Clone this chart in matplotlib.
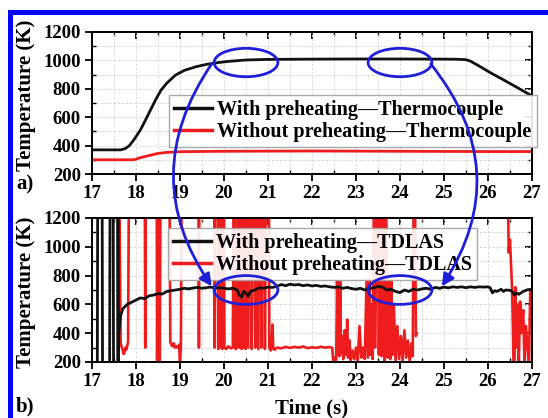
import numpy as np
import matplotlib
matplotlib.use("Agg")
import matplotlib.pyplot as plt
from matplotlib.patches import Ellipse, ConnectionPatch, Rectangle
from matplotlib.ticker import MultipleLocator

plt.rcParams['font.family'] = ['Liberation Serif', 'DejaVu Serif']
plt.rcParams['font.weight'] = 'bold'

# ---------------- data ----------------
# panel a: thermocouple
tc_pre_t = [17.0, 17.65, 17.75, 17.85, 17.95, 18.0, 18.1, 18.2, 18.33, 18.45, 18.57, 18.7, 18.9,
            19.1, 19.37, 19.6, 19.85, 20.1, 20.5, 21.0, 22.0, 23.0, 24.0, 25.0, 25.3, 25.5,
            25.6, 25.8, 26.08, 26.3, 26.56, 26.8, 27.0]
tc_pre_v = [370, 370, 378, 400, 440, 463, 510, 570, 651, 725, 791, 840, 897,
            930, 956, 972, 984, 993, 1003, 1007, 1009, 1010, 1010, 1009, 1008, 1005,
            995, 960, 909, 872, 827, 785, 750]
tc_nopre_t = [17.0, 17.95, 18.1, 18.3, 18.5, 18.7, 19.0, 20.0, 22.0, 24.0, 26.0, 27.0]
tc_nopre_v = [300, 300, 315, 330, 345, 352, 357, 360, 362, 360, 358, 358]

# panel b: TDLAS with preheating
td_pre_t = [17.0, 17.12, 17.13, 17.23, 17.24, 17.40, 17.41, 17.48, 17.49, 17.585, 17.59, 17.60,
            17.61, 17.65, 17.7, 17.8, 17.9, 18.0, 18.1, 18.2, 18.3, 18.4, 18.5, 18.6, 18.7,
            18.8, 18.9, 19.0, 19.1, 19.2, 19.3, 19.4, 19.5, 19.6, 19.7, 19.8, 19.9, 20.0,
            20.1, 20.2, 20.3, 20.35, 20.4, 20.45, 20.5, 20.55, 20.6, 20.7, 20.8, 20.9, 21.0,
            21.1, 21.2, 21.3, 21.4, 21.5, 21.6, 21.7, 21.8, 21.9, 22.0, 22.1, 22.2, 22.3,
            22.4, 22.5, 22.6, 22.7, 22.8, 22.9, 23.0, 23.1, 23.2, 23.3, 23.4, 23.5, 23.6,
            23.7, 23.8, 23.9, 24.0, 24.1, 24.2, 24.3, 24.4, 24.5, 24.6, 24.7, 24.8, 24.9,
            25.0, 25.1, 25.2, 25.3, 25.4, 25.5, 25.6, 25.7, 25.8, 25.9, 26.0, 26.05, 26.1,
            26.15, 26.2, 26.3, 26.35, 26.4, 26.5, 26.55, 26.6, 26.65, 26.7, 26.8, 26.9, 27.0]
td_pre_v = [100, 100, 1400, 1400, 100, 100, 1400, 1400, 100, 100, 1400, 150,
            400, 520, 570, 600, 615, 630, 645, 640, 660, 665, 675, 672, 690,
            695, 700, 705, 712, 708, 714, 718, 712, 716, 720, 712, 716, 712,
            708, 712, 700, 665, 650, 690, 680, 655, 690, 700, 715, 712, 720,
            718, 725, 738, 730, 740, 735, 738, 730, 735, 728, 732, 725, 728,
            722, 718, 722, 712, 718, 710, 705, 712, 700, 710, 715, 725, 720,
            700, 705, 690, 682, 700, 690, 705, 700, 708, 712, 705, 718, 712,
            720, 715, 722, 718, 722, 716, 722, 718, 722, 720, 722, 715, 680,
            695, 690, 705, 690, 700, 698, 690, 665, 680, 670, 690, 702, 705]

# panel b: TDLAS without preheating (values above 1200 run off the top of the axes)
H = 1500
td_nopre_t = [17.62, 17.65, 17.68, 17.70, 17.72, 17.74, 17.76, 17.78, 17.80, 17.82, 17.84,
              18.20, 18.21, 18.22, 18.47, 18.48, 18.50, 18.53, 18.54, 18.56,
              18.76, 18.78, 18.82, 18.86, 18.88, 18.92, 18.96, 18.98, 19.00, 19.02, 19.04,
              19.42, 19.43, 19.44,
              19.78, 19.79, 19.80, 19.86, 19.87, 19.88, 19.93, 19.94, 19.96, 19.97, 20.00,
              20.01, 20.05, 20.10, 20.15, 20.20, 20.22, 20.25, 20.26, 20.30, 20.32, 20.35,
              20.38, 20.40, 20.42, 20.45, 20.47, 20.49, 20.52, 20.55, 20.58, 20.62, 20.63,
              20.66, 20.70, 20.71, 20.74, 20.78, 20.80, 20.84, 20.85, 20.88, 20.92, 20.93,
              20.95, 21.02, 21.03, 21.06, 21.08, 21.10, 21.12, 21.15,
              21.2, 21.3, 21.4, 21.5, 21.6, 21.7, 21.8, 21.9, 22.0, 22.1, 22.2, 22.3, 22.4, 22.46,
              22.48, 22.52, 22.55, 22.57, 22.59, 22.62, 22.64, 22.66, 22.69, 22.71, 22.74,
              22.77, 22.80, 22.82, 22.85, 22.88, 22.92, 22.96, 23.00, 23.04, 23.08, 23.12,
              23.16, 23.20, 23.24, 23.27, 23.30, 23.32, 23.36, 23.38, 23.41, 23.44, 23.47,
              23.50, 23.52, 23.55, 23.58, 23.60, 23.63, 23.65, 23.68, 23.72, 23.75, 23.78,
              23.80, 23.83, 23.86, 23.90, 23.94, 23.98, 24.02, 24.06, 24.10, 24.14, 24.18,
              24.22, 24.26, 24.29, 24.31, 24.34, 24.36, 24.38,
              24.39,
              26.42, 26.45, 26.47, 26.50, 26.52, 26.55, 26.58, 26.60, 26.62, 26.65, 26.68,
              26.70, 26.73, 26.76, 26.80, 26.83, 26.86, 26.90, 26.93, 26.96, 27.0]
td_nopre_v = [H, 330, 300, 280, 255, 270, 300, 285, 310, 340, H,
              H, 300, H, H, 210, H, H, 200, H,
              H, 340, 310, 330, 300, 310, 295, 320, 200, 300, H,
              H, 300, H,
              H, 300, H, H, 290, H, H, 300, 290, H, H,
              300, 290, 310, 295, 300, H, H, 290, 300, H, 300,
              H, 290, H, 300, H, 290, H, 300, H, H, 290,
              H, H, 300, H, 290, H, H, 300, H, H, 290,
              H, H, 300, 280, 290, 460, 300, 285,
              300, 295, 305, 298, 305, 300, 308, 296, 302, 298, 306, 300, 304, 298,
              210, 230, 215, 770, 300, 240, 760, 260, 380, 220, 420,
              250, 495, 230, 350, 210, 280, 220, 300, 210, 450, 230,
              300, 220, 770, 230, 770, 250, 600, 220, H, 300, H,
              H, 250, H, 240, H, H, 210, H, 230, 770, 220,
              760, 250, 600, 210, 450, 220, 380, 210, 420, 230, 350,
              200, 330, 240, H, H, 380, 400,
              np.nan,
              H, H, 960, 1050, 900, 700, 200, 150, 720, 300, 600,
              180, 620, 400, 560, 200, 450, 300, 150, 700, 690]

xticks = [17, 18, 19, 20, 21, 22, 23, 24, 25, 26, 27]
yticks = [200, 400, 600, 800, 1000, 1200]

labels_a = ['With preheating\u2014Thermocouple', 'Without preheating\u2014Thermocouple']
labels_b = ['With preheating\u2014TDLAS', 'Without preheating\u2014TDLAS']

# ---------------- figure ----------------
W, Hh = 548, 418
fig = plt.figure(figsize=(W / 100, Hh / 100), dpi=100)

def px_axes(x0, y0, x1, y1):
    return fig.add_axes([x0 / W, 1 - y1 / Hh, (x1 - x0) / W, (y1 - y0) / Hh])

axa = px_axes(92, 32, 532, 174)
axb = px_axes(92, 218, 532, 362)

BLACK = '#111111'
RED = '#ee1c1c'
BLUE = '#1f1fd8'
tick_fs = 13.5
leg_fs = 14.5

def style(ax):
    ax.set_xlim(17, 27)
    ax.set_ylim(200, 1200)
    ax.set_xticks(xticks, labels=[str(v) for v in xticks],
                  fontweight='bold', fontsize=tick_fs, family='Liberation Serif')
    ax.set_yticks(yticks, labels=[str(v) for v in yticks],
                  fontweight='bold', fontsize=tick_fs, family='Liberation Serif')
    ax.xaxis.set_minor_locator(MultipleLocator(0.5))
    ax.yaxis.set_minor_locator(MultipleLocator(100))
    ax.grid(which='both', color='#d4d4d4', lw=0.6, ls=(0, (3, 2)))
    ax.set_axisbelow(True)
    for s in ax.spines.values():
        s.set_linewidth(1.4)
    ax.tick_params(which='major', direction='out', length=5, width=1.3, pad=3)
    ax.tick_params(which='minor', direction='in', length=3, width=1.0)
    sx = ax.secondary_xaxis('top')
    sx.set_xticks(xticks)
    sx.xaxis.set_minor_locator(MultipleLocator(0.5))
    sx.tick_params(which='major', direction='in', length=5, width=1.3, labeltop=False)
    sx.tick_params(which='minor', direction='in', length=3, width=1.0)
    sy = ax.secondary_yaxis('right')
    sy.set_yticks(yticks)
    sy.yaxis.set_minor_locator(MultipleLocator(100))
    sy.tick_params(which='major', direction='in', length=5, width=1.3, labelright=False)
    sy.tick_params(which='minor', direction='in', length=3, width=1.0)
    for s in list(sx.spines.values()) + list(sy.spines.values()):
        s.set_linewidth(1.4)

style(axa)
style(axb)

# panel a
axa.plot(tc_pre_t, tc_pre_v, color=BLACK, lw=2.0, label=labels_a[0])
axa.plot(tc_nopre_t, tc_nopre_v, color=RED, lw=2.0, label=labels_a[1])
# panel b
axb.plot(td_nopre_t, td_nopre_v, color=RED, lw=1.9, label=labels_b[1], zorder=2)
axb.plot(td_pre_t, td_pre_v, color=BLACK, lw=2.0, label=labels_b[0], zorder=3)

leg_kw = dict(frameon=True, fancybox=False, edgecolor='#a0a0a0', framealpha=0.9,
              prop={'family': 'Liberation Serif', 'weight': 'bold', 'size': leg_fs},
              handlelength=1.9, handletextpad=0.25, labelspacing=0.12, borderpad=0.25,
              loc='upper left', bbox_transform=fig.transFigure, borderaxespad=0)
la = axa.legend(bbox_to_anchor=(169 / W, 1 - 95 / Hh), **leg_kw)
hb, lb = axb.get_legend_handles_labels()
lg = axb.legend([hb[1], hb[0]], [lb[1], lb[0]], bbox_to_anchor=(168 / W, 1 - 228 / Hh), **leg_kw)
for lgd in (la, lg):
    for ln in lgd.get_lines():
        ln.set_linewidth(2.5)
    lgd.set_zorder(4)

# annotations: ellipses
for ax, cy in ((axa, 985), (axb, 700)):
    for cx in (20.5, 24.0):
        ax.add_patch(Ellipse((cx, cy), 1.45, 200, fill=False, edgecolor=BLUE, lw=2.0,
                             zorder=6, clip_on=False))

# annotations: curved arrows from panel a to panel b
for (xa, ya), (xb, yb), rad in (((19.72, 975), (19.72, 725), 0.34),
                                ((24.7, 975), (24.95, 725), -0.36)):
    cp = ConnectionPatch(xyA=(xa, ya), coordsA=axa.transData,
                         xyB=(xb, yb), coordsB=axb.transData,
                         arrowstyle='-|>', connectionstyle=f'arc3,rad={rad}',
                         color=BLUE, lw=2.0, mutation_scale=18, zorder=10)
    fig.add_artist(cp)

# texts
lab_kw = dict(fontsize=15, fontweight='bold', family='Liberation Serif')
fig.text(26 / W, 1 - 95 / Hh, 'Temperature (K)', rotation=90, ha='center', va='center', **lab_kw)
fig.text(26 / W, 1 - 292 / Hh, 'Temperature (K)', rotation=90, ha='center', va='center', **lab_kw)
fig.text(312 / W, 1 - 408 / Hh, 'Time (s)', ha='center', va='center', **lab_kw)
fig.text(16 / W, 1 - 184 / Hh, 'a)', ha='left', va='center', **lab_kw)
fig.text(16 / W, 1 - 406 / Hh, 'b)', ha='left', va='center', **lab_kw)

# blue frame
fig.add_artist(Rectangle((8 / W, 1 - 15 / Hh), 1, 5 / Hh, transform=fig.transFigure,
                         color='#0000ff', lw=0, zorder=20))
fig.add_artist(Rectangle((8 / W, 0), 5 / W, 1 - 10 / Hh, transform=fig.transFigure,
                         color='#0000ff', lw=0, zorder=20))

fig.savefig('out.png', dpi=100)
